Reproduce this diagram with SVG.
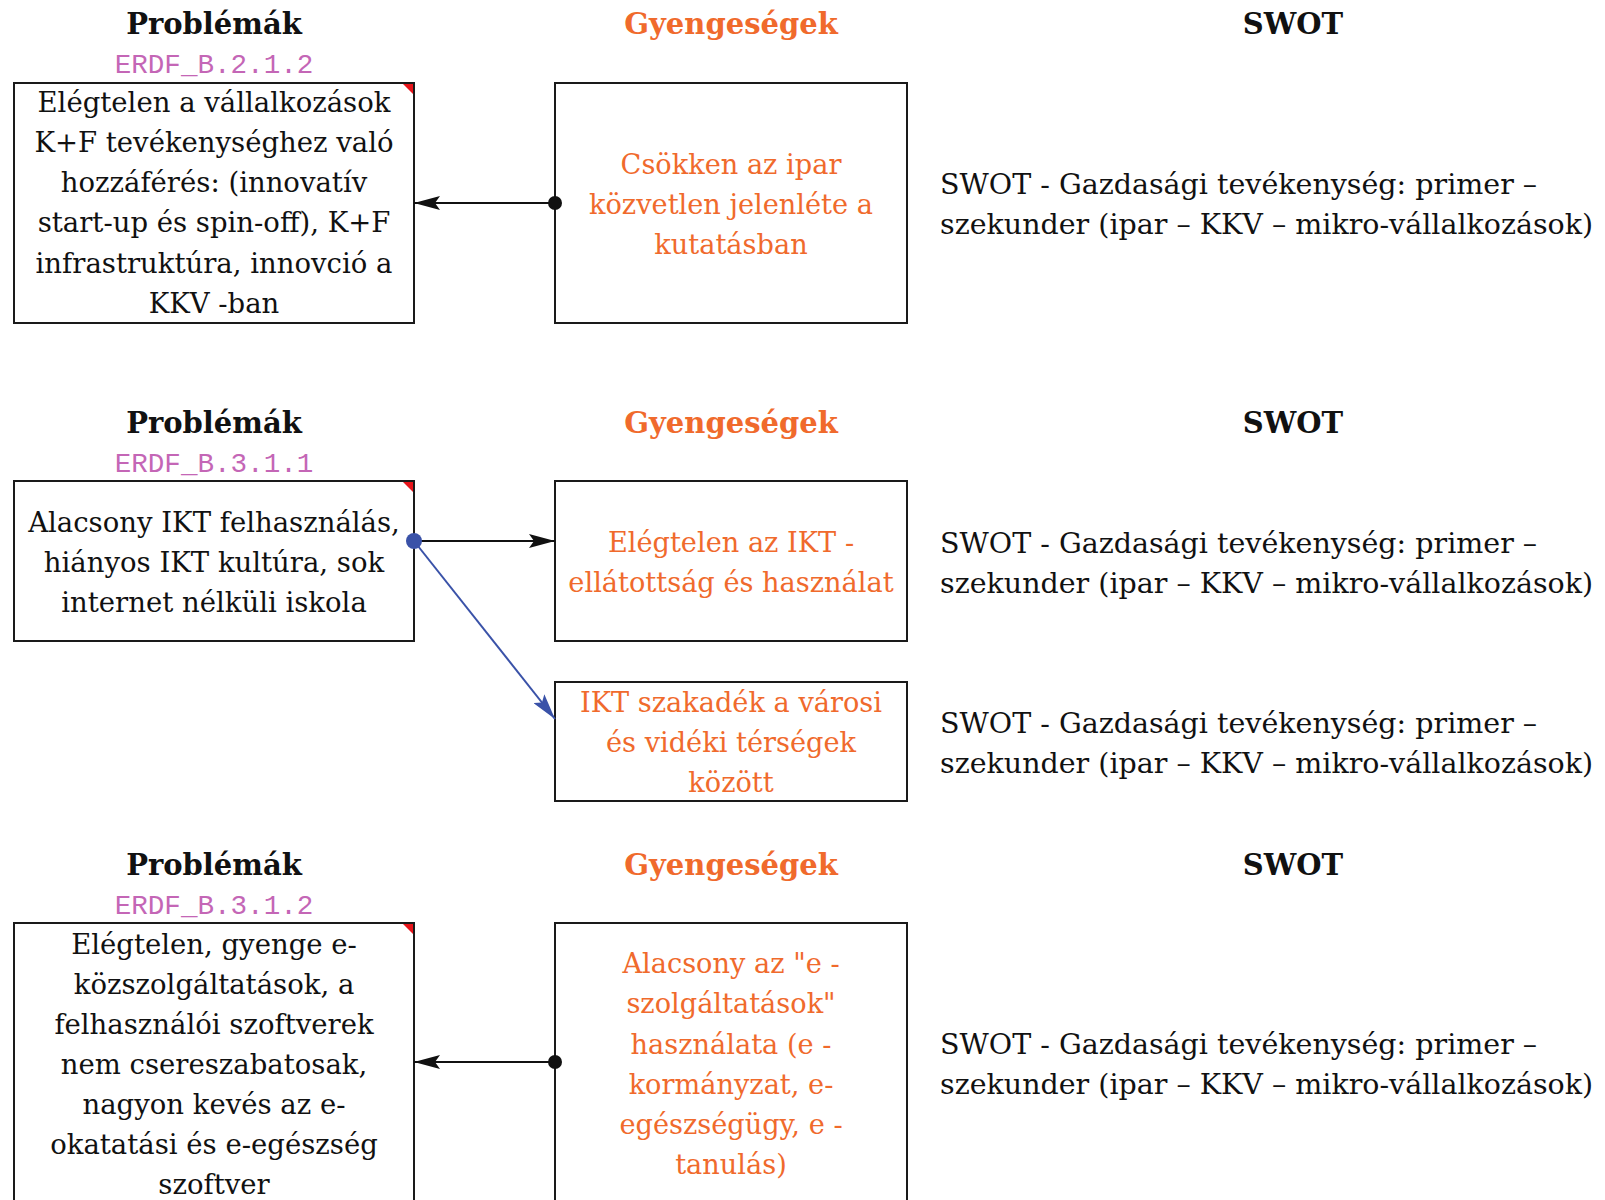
<svg xmlns="http://www.w3.org/2000/svg" width="1605" height="1200" viewBox="0 0 1605 1200">
<style>
.hdr{font-family:"DejaVu Serif",serif;font-weight:bold;font-size:29px;text-anchor:middle}
.hk{fill:#111}
.ho{fill:#f06a2c}
.code{font-family:"Liberation Mono",monospace;font-size:27.6px;fill:#c466b6;text-anchor:middle}
.box{fill:#fff;stroke:#1a1a1a;stroke-width:2}
.t{font-family:"DejaVu Serif",serif;font-size:27.5px;text-anchor:middle;fill:#111}
.to{font-family:"DejaVu Serif",serif;font-size:27.2px;text-anchor:middle;fill:#f06a2c}
.sw{font-family:"DejaVu Serif",serif;font-size:28.5px;fill:#111}
.flag{fill:#e8141a}
.edge{stroke:#111;stroke-width:2;fill:none}
.edgeb{stroke:#3a52a8;stroke-width:2;fill:none}
</style>
<defs>
<marker id="ah" viewBox="0 0 26 14" refX="26" refY="7" markerWidth="26" markerHeight="14" markerUnits="userSpaceOnUse" orient="auto">
<path d="M0,0 L26,7 L0,14 L5,7 z" fill="#111"/>
</marker>
<marker id="ahb" viewBox="0 0 26 14" refX="26" refY="7" markerWidth="26" markerHeight="14" markerUnits="userSpaceOnUse" orient="auto">
<path d="M0,0 L26,7 L0,14 L5,7 z" fill="#3a52a8"/>
</marker>
</defs>

<!-- Row 1 -->
<g id="row1-headers">
<text class="hdr hk" x="214" y="34">Problémák</text>
<text class="code" x="214" y="73">ERDF_B.2.1.2</text>
<text class="hdr ho" x="731" y="34">Gyengeségek</text>
<text class="hdr hk" x="1293" y="34">SWOT</text>
</g>
<g id="p1">
<rect class="box" x="14" y="83" width="400" height="240"/>
<path class="flag" d="M403,84 L413,84 L413,94 z"/>
<text class="t" x="214" y="112">Elégtelen a vállalkozások</text>
<text class="t" x="214" y="152">K+F tevékenységhez való</text>
<text class="t" x="214" y="192">hozzáférés: (innovatív</text>
<text class="t" x="214" y="232">start-up és spin-off), K+F</text>
<text class="t" x="214" y="273">infrastruktúra, innovció a</text>
<text class="t" x="214" y="313">KKV -ban</text>
</g>
<g id="w1">
<rect class="box" x="555" y="83" width="352" height="240"/>
<text class="to" x="731" y="174">Csökken az ipar</text>
<text class="to" x="731" y="214">közvetlen jelenléte a</text>
<text class="to" x="731" y="254">kutatásban</text>
</g>
<g id="s1">
<text class="sw" x="940" y="194">SWOT - Gazdasági tevékenység: primer –</text>
<text class="sw" x="940" y="234">szekunder (ipar – KKV – mikro-vállalkozások)</text>
</g>

<!-- Row 2 -->
<g id="row2-headers">
<text class="hdr hk" x="214" y="433">Problémák</text>
<text class="code" x="214" y="472">ERDF_B.3.1.1</text>
<text class="hdr ho" x="731" y="433">Gyengeségek</text>
<text class="hdr hk" x="1293" y="433">SWOT</text>
</g>
<g id="p2">
<rect class="box" x="14" y="481" width="400" height="160"/>
<path class="flag" d="M403,482 L413,482 L413,492 z"/>
<text class="t" x="214" y="532">Alacsony IKT felhasználás,</text>
<text class="t" x="214" y="572">hiányos IKT kultúra, sok</text>
<text class="t" x="214" y="612">internet nélküli iskola</text>
</g>
<g id="w2">
<rect class="box" x="555" y="481" width="352" height="160"/>
<text class="to" x="731" y="552">Elégtelen az IKT -</text>
<text class="to" x="731" y="592">ellátottság és használat</text>
</g>
<g id="w3">
<rect class="box" x="555" y="682" width="352" height="119"/>
<text class="to" x="731" y="712">IKT szakadék a városi</text>
<text class="to" x="731" y="752">és vidéki térségek</text>
<text class="to" x="731" y="792">között</text>
</g>
<g id="s2">
<text class="sw" x="940" y="553">SWOT - Gazdasági tevékenység: primer –</text>
<text class="sw" x="940" y="593">szekunder (ipar – KKV – mikro-vállalkozások)</text>
</g>
<g id="s3">
<text class="sw" x="940" y="733">SWOT - Gazdasági tevékenység: primer –</text>
<text class="sw" x="940" y="773">szekunder (ipar – KKV – mikro-vállalkozások)</text>
</g>

<!-- Row 3 -->
<g id="row3-headers">
<text class="hdr hk" x="214" y="875">Problémák</text>
<text class="code" x="214" y="914">ERDF_B.3.1.2</text>
<text class="hdr ho" x="731" y="875">Gyengeségek</text>
<text class="hdr hk" x="1293" y="875">SWOT</text>
</g>
<g id="p3">
<rect class="box" x="14" y="923" width="400" height="300"/>
<path class="flag" d="M403,924 L413,924 L413,934 z"/>
<text class="t" x="214" y="954">Elégtelen, gyenge e-</text>
<text class="t" x="214" y="994">közszolgáltatások, a</text>
<text class="t" x="214" y="1034">felhasználói szoftverek</text>
<text class="t" x="214" y="1074">nem csereszabatosak,</text>
<text class="t" x="214" y="1114">nagyon kevés az e-</text>
<text class="t" x="214" y="1154">okatatási és e-egészség</text>
<text class="t" x="214" y="1194">szoftver</text>
</g>
<g id="w4">
<rect class="box" x="555" y="923" width="352" height="300"/>
<text class="to" x="731" y="973">Alacsony az "e -</text>
<text class="to" x="731" y="1013">szolgáltatások"</text>
<text class="to" x="731" y="1054">használata (e -</text>
<text class="to" x="731" y="1094">kormányzat, e-</text>
<text class="to" x="731" y="1134">egészségügy, e -</text>
<text class="to" x="731" y="1174">tanulás)</text>
</g>
<g id="s4">
<text class="sw" x="940" y="1054">SWOT - Gazdasági tevékenység: primer –</text>
<text class="sw" x="940" y="1094">szekunder (ipar – KKV – mikro-vállalkozások)</text>
</g>

<!-- Connectors -->
<g id="connectors">
<line class="edge" x1="555" y1="203" x2="414" y2="203" marker-end="url(#ah)"/>
<circle cx="555" cy="203" r="7" fill="#111"/>
<line class="edge" x1="414" y1="541" x2="555" y2="541" marker-end="url(#ah)"/>
<line class="edgeb" x1="414" y1="541" x2="555" y2="719" marker-end="url(#ahb)"/>
<circle cx="414" cy="541" r="8" fill="#3a52a8"/>
<line class="edge" x1="555" y1="1062" x2="414" y2="1062" marker-end="url(#ah)"/>
<circle cx="555" cy="1062" r="7" fill="#111"/>
</g>
</svg>
